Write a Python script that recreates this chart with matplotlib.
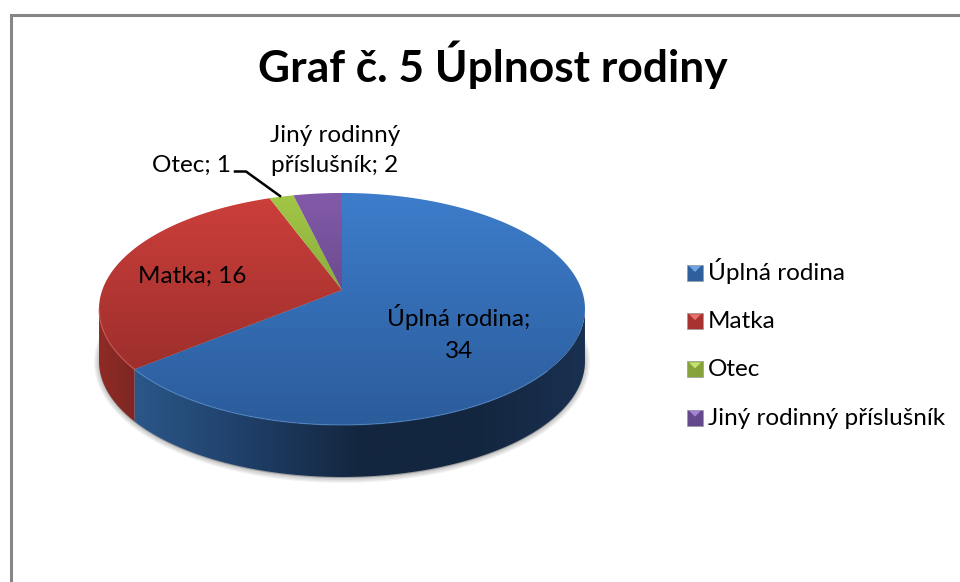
import matplotlib
matplotlib.use("Agg")
import matplotlib.pyplot as plt
import numpy as np
from matplotlib.colors import LinearSegmentedColormap
from matplotlib.patches import Polygon, Rectangle

plt.rcParams["font.family"] = ["Lato", "Open Sans", "DejaVu Sans"]

title = "Graf č. 5 Úplnost rodiny"
names = ["Úplná rodina", "Matka", "Otec", "Jiný rodinný příslušník"]
values = [34, 16, 1, 2]

top_colors = [("#3d7dcb", "#2b5c9b"), ("#cd3f3b", "#8e2a27"), ("#a2c746", "#6c8a2f"), ("#825aaa", "#4c3669")]
side_colors = [["#2b5789", "#1f3f68", "#13263f", "#13263f", "#1a3050"], ["#8f2b26", "#7e2622"], ["#6c8a2f", "#5a7327"], ["#5e437f", "#4c3669"]]
key_colors = ["#2f5f9c", "#a83230", "#85a33a", "#644a8c"]
key_light = ["#6ea4e6", "#ea6f6b", "#c4e36e", "#a684d4"]

# pie geometry in pixels, k is the perspective of the tilted disc
cx, cy = 342, 290
rx, ry, k = 239.7, 112.9, 0.1636
depth = 52


def project(t):
    # t is clockwise from 12 o'clock
    u, v = np.sin(t), np.cos(t)
    d = 1 + k * v
    return cx + rx * u / d, cy - ry * v / d


def gradient(ax, colors, extent, clip, horizontal=False):
    cmap = LinearSegmentedColormap.from_list("g", colors)
    g = np.linspace(0, 1, 256)
    g = g.reshape(1, -1) if horizontal else g.reshape(-1, 1)
    im = ax.imshow(g, cmap=cmap, extent=extent, aspect="auto", origin="upper", zorder=clip.get_zorder())
    ax.add_patch(clip)
    clip.set_visible(False)
    im.set_clip_path(clip)


fig = plt.figure(figsize=(9.6, 5.82), dpi=100)
ax = fig.add_axes([0, 0, 1, 1])

# chart frame
ax.plot([10.5, 10.5, 960], [582, 14.5, 14.5], color="#868686", lw=2.2, solid_joinstyle="miter", zorder=1)

ax.text(492.5, 82, title, fontsize=31.9, fontweight="bold", ha="center", va="baseline", color="#000000", zorder=10)

edges = np.deg2rad(np.concatenate([[0], np.cumsum(values) / np.sum(values) * 360]))

# soft shadow below the side wall
tt = np.linspace(0, 2 * np.pi, 400)
sx, sy = project(tt)
for lw in [7, 5, 3, 1]:
    ax.fill(sx, sy + depth + 1, facecolor="#000000", edgecolor="#000000", alpha=0.06, lw=lw, zorder=2)

# side wall, only the part facing the viewer
front_a = np.arccos(-k)
front_b = 2 * np.pi - front_a
for i in range(len(values)):
    a = max(edges[i], front_a)
    b = min(edges[i + 1], front_b)
    if b <= a:
        continue
    t = np.linspace(a, b, 200)
    x, y = project(t)
    pts = np.column_stack([np.r_[x, x[::-1]], np.r_[y, y[::-1] + depth]])
    clip = Polygon(pts, closed=True, transform=ax.transData, zorder=3)
    gradient(ax, side_colors[i], (x.min(), x.max(), 500, 280), clip, horizontal=True)

# top face
for i in range(len(values)):
    t = np.linspace(edges[i], edges[i + 1], 300)
    x, y = project(t)
    pts = np.column_stack([np.r_[cx, x], np.r_[cy, y]])
    clip = Polygon(pts, closed=True, transform=ax.transData, zorder=4)
    gradient(ax, top_colors[i], (99, 585, 425, 193), clip)

# bright bevel along the front edge
t = np.linspace(np.deg2rad(130), edges[1], 200)
ax.plot(*project(t), color="#5a92d6", lw=0.9, alpha=0.55, zorder=5)
t = np.linspace(edges[1], front_b, 60)
ax.plot(*project(t), color="#d9605a", lw=0.9, alpha=0.6, zorder=5)

# data labels
fs = 17.5
ax.text(459, 326, f"{names[0]};", fontsize=fs, ha="center", va="baseline", zorder=6)
ax.text(459, 358, f"{values[0]}", fontsize=fs, ha="center", va="baseline", zorder=6)
ax.text(192, 283, f"{names[1]}; {values[1]}", fontsize=fs, ha="center", va="baseline", zorder=6)
ax.text(192, 172, f"{names[2]}; {values[2]}", fontsize=fs, ha="center", va="baseline", zorder=6)
ax.text(335, 142, "Jiný rodinný", fontsize=fs, ha="center", va="baseline", zorder=6)
ax.text(335, 172, f"příslušník; {values[3]}", fontsize=fs, ha="center", va="baseline", zorder=6)

# leader line of Otec
ax.plot([235, 246, 280], [171.5, 171.5, 196], color="#000000", lw=1.8, zorder=6)

# legend
for i, name in enumerate(names):
    ky = 273 + 48.2 * i
    ax.add_patch(Rectangle((687, ky - 8), 16, 16, facecolor=key_colors[i], edgecolor="#9a9a9a", lw=0.5, zorder=6))
    ax.add_patch(Polygon([(689, ky - 7), (701, ky - 7), (695, ky - 1)], closed=True, facecolor=key_light[i], edgecolor="none", zorder=7))
    ax.text(708, ky + 7, name, fontsize=fs, ha="left", va="baseline", color="#000000", zorder=6)

ax.set_xlim(0, 960)
ax.set_ylim(582, 0)
ax.axis("off")

fig.savefig("out.png", dpi=100, facecolor="white")
